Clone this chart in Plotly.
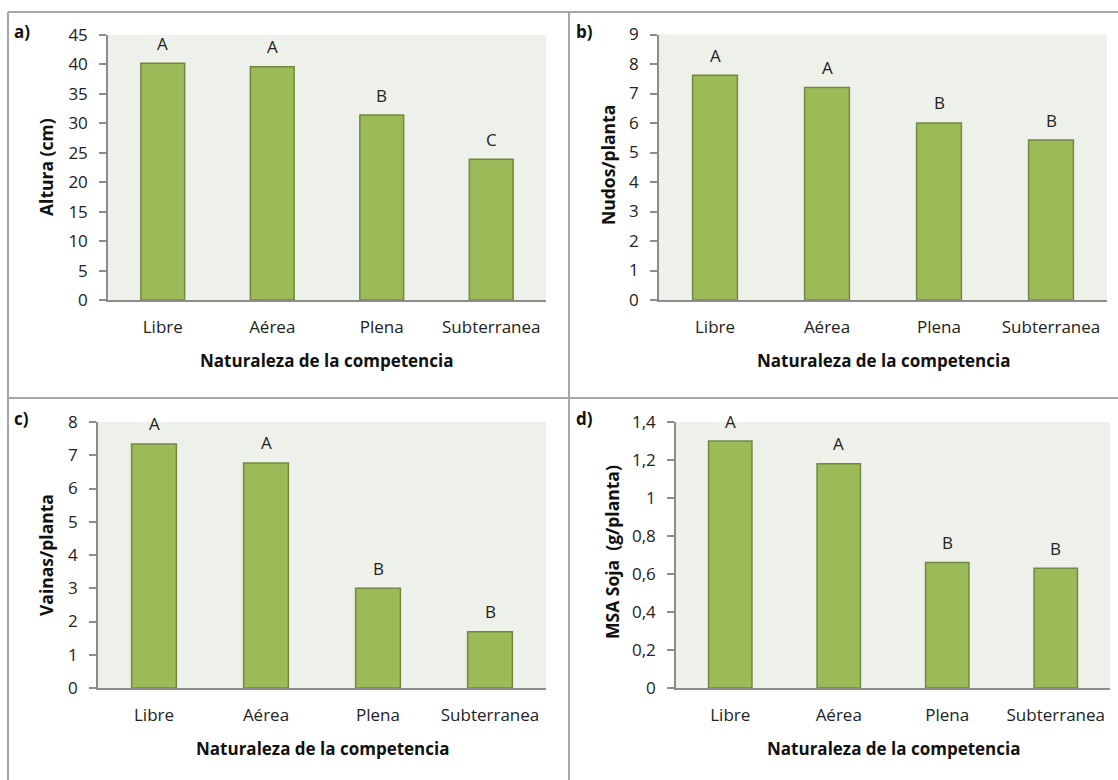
import plotly.graph_objects as go

W, H = 1118, 780

categorias = ["Libre", "Aérea", "Plena", "Subterranea"]

altura = [40.2, 39.6, 31.4, 23.9]
nudos = [7.62, 7.2, 6.0, 5.42]
vainas = [7.34, 6.77, 3.0, 1.69]
msa = [1.30, 1.18, 0.66, 0.63]

letras_altura = ["A", "A", "B", "C"]
letras_nudos = ["A", "A", "B", "B"]
letras_vainas = ["A", "A", "B", "B"]
letras_msa = ["A", "A", "B", "B"]

titulos_y = ["Altura (cm)", "Nudos/planta", "Vainas/planta", "MSA Soja  (g/planta)"]
titulo_x = "Naturaleza de la competencia"
etiquetas_panel = ["a)", "b)", "c)", "d)"]

FONT = "Open Sans"
BAR = "#9BBB59"
BAR_EDGE = "#71893F"
PLOT_BG = "#EEF1E9"
AXIS = "#8C8C8C"
TXT = "#222222"


def px_x(v):
    return v / W


def px_y(v):
    return 1 - v / H


# panel geometry in pixels: (left, right, top, bottom)
paneles = [
    dict(x0=108, x1=546, top=35, bottom=300, rng=[0, 45], dtick=5, fmt=None,
         vals=altura, letras=letras_altura),
    dict(x0=659, x1=1107, top=34.5, bottom=300, rng=[0, 9], dtick=1, fmt=None,
         vals=nudos, letras=letras_nudos),
    dict(x0=98, x1=546, top=422, bottom=688, rng=[0, 8], dtick=1, fmt=None,
         vals=vainas, letras=letras_vainas),
    dict(x0=676, x1=1110, top=422, bottom=688, rng=[0, 1.4], dtick=0.2, fmt="comma",
         vals=msa, letras=letras_msa),
]

fig = go.Figure()
annotations = []
layout_axes = {}

for i, p in enumerate(paneles):
    n = "" if i == 0 else str(i + 1)
    xa, ya = "x" + n, "y" + n
    fig.add_trace(go.Bar(
        x=categorias, y=p["vals"], xaxis=xa, yaxis=ya,
        marker=dict(color=BAR, line=dict(color=BAR_EDGE, width=1.5)),
        width=0.4, showlegend=False, hoverinfo="x+y",
    ))

    if p["fmt"] == "comma":
        tv = [round(k * p["dtick"], 1) for k in range(8)]
        tt = [("%g" % v).replace(".", ",") for v in tv]
        ytick = dict(tickmode="array", tickvals=tv, ticktext=tt)
    else:
        ytick = dict(dtick=p["dtick"], tick0=0)

    layout_axes["xaxis" + n] = dict(
        domain=[px_x(p["x0"]), px_x(p["x1"])], anchor=ya,
        showline=True, linecolor=AXIS, linewidth=1.5, ticks="",
        showgrid=False, zeroline=False, fixedrange=True, automargin=False,
        tickfont=dict(family=FONT, size=17, color=TXT),
        ticklabelstandoff=11, range=[-0.5, 3.5],
    )
    layout_axes["yaxis" + n] = dict(
        domain=[px_y(p["bottom"]), px_y(p["top"])], anchor=xa,
        range=p["rng"], showline=True, linecolor=AXIS, linewidth=1.5,
        ticks="outside", ticklen=7, tickcolor=AXIS, tickwidth=1.5,
        showgrid=False, zeroline=False, fixedrange=True, automargin=False,
        tickfont=dict(family=FONT, size=17, color=TXT),
        ticklabelstandoff=8, **ytick,
    )

    # significance letters above each bar
    for c, v, l in zip(categorias, p["vals"], p["letras"]):
        annotations.append(dict(
            x=c, y=v, xref=xa, yref=ya, text=l, showarrow=False,
            yanchor="middle", yshift=20,
            font=dict(family=FONT, size=17, color=TXT),
        ))

    # x-axis title
    annotations.append(dict(
        x=(px_x(p["x0"]) + px_x(p["x1"])) / 2, y=px_y(p["bottom"] + 60),
        xref="paper", yref="paper", text="<b>" + titulo_x + "</b>",
        showarrow=False, xanchor="center", yanchor="middle",
        font=dict(family=FONT, size=17, color="#111111"),
    ))

# y-axis titles (rotated)
ytit_pos = [(46, 167), (608, 165), (46, 555), (612, 552)]
for t, (x, y) in zip(titulos_y, ytit_pos):
    annotations.append(dict(
        x=px_x(x), y=px_y(y), xref="paper", yref="paper",
        text="<b>" + t + "</b>", textangle=-90, showarrow=False,
        xanchor="center", yanchor="middle",
        font=dict(family=FONT, size=17.5, color="#111111"),
    ))

# panel labels
lab_pos = [(12, 32), (574, 32), (12, 418), (574, 418)]
for t, (x, y) in zip(etiquetas_panel, lab_pos):
    annotations.append(dict(
        x=px_x(x), y=px_y(y), xref="paper", yref="paper",
        text="<b>" + t + "</b>", showarrow=False,
        xanchor="left", yanchor="middle",
        font=dict(family=FONT, size=17, color="#111111"),
    ))

# panel frame lines and plot backgrounds
shapes = []
for p in paneles:
    shapes.append(dict(
        type="rect", xref="paper", yref="paper", layer="below",
        x0=px_x(p["x0"]), x1=px_x(p["x1"]),
        y0=px_y(p["bottom"]), y1=px_y(p["top"]),
        fillcolor=PLOT_BG, line=dict(width=0),
    ))
frame = dict(color="#A6A6A6", width=2)
shapes += [
    dict(type="line", xref="paper", yref="paper", x0=px_x(8), x1=1.0,
         y0=px_y(12), y1=px_y(12), line=frame),
    dict(type="line", xref="paper", yref="paper", x0=px_x(8), x1=px_x(8),
         y0=px_y(12), y1=0, line=frame),
    dict(type="line", xref="paper", yref="paper", x0=px_x(569), x1=px_x(569),
         y0=px_y(12), y1=0, line=frame),
    dict(type="line", xref="paper", yref="paper", x0=px_x(8), x1=1.0,
         y0=px_y(398), y1=px_y(398), line=frame),
]

fig.update_layout(
    width=W, height=H,
    margin=dict(l=0, r=0, t=0, b=0, pad=0, autoexpand=False),
    paper_bgcolor="white", plot_bgcolor="rgba(0,0,0,0)",
    bargap=0.6, annotations=annotations, shapes=shapes,
    **layout_axes,
)

fig.write_html("out.html", config={"displayModeBar": False})
